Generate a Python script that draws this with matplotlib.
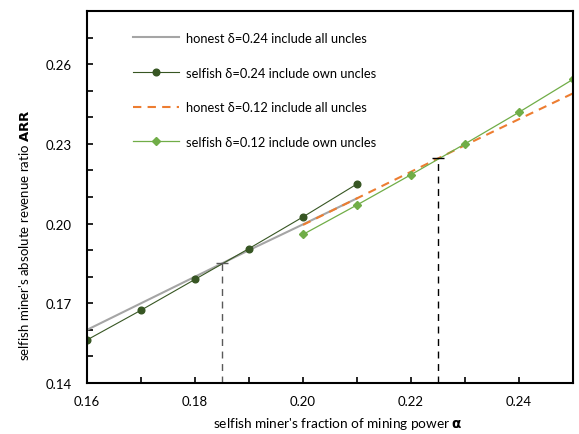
import matplotlib.pyplot as plt
from matplotlib.ticker import MultipleLocator, FixedLocator

plt.rcParams['font.family'] = ['Lato', 'DejaVu Sans']
plt.rcParams['mathtext.fontset'] = 'custom'
plt.rcParams['mathtext.rm'] = 'Lato'
plt.rcParams['mathtext.bf'] = 'DejaVu Sans:bold'

# data
alpha_hi = [0.16, 0.17, 0.18, 0.19, 0.20, 0.21]
alpha_lo = [0.20, 0.21, 0.22, 0.23, 0.24, 0.25]
honest_24 = [0.1600, 0.1700, 0.1800, 0.1900, 0.1997, 0.2095]
selfish_24 = [0.1562, 0.1674, 0.1790, 0.1906, 0.2025, 0.2149]
honest_12 = [0.1995, 0.2095, 0.2195, 0.2295, 0.2393, 0.2490]
selfish_12 = [0.1959, 0.2070, 0.2184, 0.2300, 0.2419, 0.2543]

# break-even points
cross_x = [0.185, 0.225]
cross_y = [0.1850, 0.2245]
cross_col = ['#595959', 'black']

fig = plt.figure(figsize=(5.79, 4.35), dpi=100)
ax = fig.add_axes([87/579, 1 - 384/435, (573-87)/579, (384-12)/435])

ax.plot(alpha_hi, honest_24, color='#A5A5A5', lw=1.5,
        label='honest δ=0.24 include all uncles')
ax.plot(alpha_hi, selfish_24, color='#375623', lw=0.8, marker='o', ms=4.8,
        label='selfish δ=0.24 include own uncles')
ax.plot(alpha_lo, honest_12, color='#ED7D31', lw=1.5, ls=(0, (4, 3)),
        label='honest δ=0.12 include all uncles')
ax.plot(alpha_lo, selfish_12, color='#70AD47', lw=0.9, marker='D', ms=4,
        label='selfish δ=0.12 include own uncles')

for cx, cy, cc in zip(cross_x, cross_y, cross_col):
    ax.plot([cx, cx], [0.14, cy], color=cc, lw=1.0, ls=(0, (5, 4)))
    ax.plot([cx], [cy], marker='_', color=cc, ms=9, mew=1.0)

ax.set_xlim(0.16, 0.25)
ax.set_ylim(0.14, 0.28)
ax.xaxis.set_major_locator(FixedLocator([0.16, 0.18, 0.20, 0.22, 0.24]))
ax.xaxis.set_minor_locator(FixedLocator([0.17, 0.19, 0.21, 0.23]))
ax.yaxis.set_major_locator(FixedLocator([0.14, 0.17, 0.20, 0.23, 0.26]))
ax.yaxis.set_minor_locator(MultipleLocator(0.01))
ax.xaxis.set_major_formatter(plt.FormatStrFormatter('%.2f'))
ax.yaxis.set_major_formatter(plt.FormatStrFormatter('%.2f'))
ax.tick_params(which='both', direction='in', length=4, width=1.2,
               labelsize=9.5, colors='black', pad=9)
ax.tick_params(axis='y', pad=11)
for s in ax.spines.values():
    s.set_linewidth(1.5)

ax.set_xlabel(r"selfish miner's fraction of mining power $\mathbf{\alpha}$",
              fontsize=9.8)
ax.xaxis.set_label_coords(0.516, -0.085)
ax.set_ylabel(r"selfish miner's absolute revenue ratio $\mathbf{ARR}$",
              fontsize=9.5)
ax.yaxis.set_label_coords(-0.115, 0.40)

ax.legend(loc='upper left', bbox_to_anchor=(0.07, 0.975), frameon=False,
          fontsize=9.3, labelspacing=1.75, handlelength=3.6, handletextpad=0.5)

fig.savefig('out.png', dpi=100)
